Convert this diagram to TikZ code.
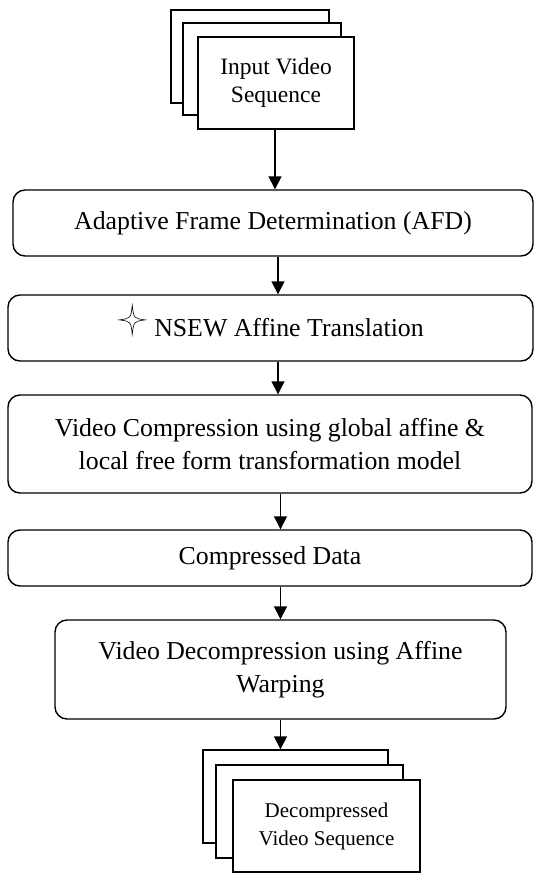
\documentclass[tikz,border=0pt]{standalone}
\usepackage{fontspec}
\setmainfont{Liberation Serif}
\usetikzlibrary{arrows.meta,positioning}

\tikzset{
  stepbox/.style={draw, rounded corners=12pt, line width=1.4pt, align=center,
    inner sep=0pt, font=\fontsize{25.8}{33}\selectfont},
  framebox/.style={draw, fill=white, line width=1.4pt, inner sep=0pt, align=center,
    minimum width=#1},
  framebox/.default=158pt,
  flow/.style={-{Triangle[length=13pt,width=13pt]}, line width=1.4pt},
  starline/.style={line width=0.6pt},
}

\begin{document}
\begin{tikzpicture}[x=1pt,y=-1pt]
  \useasboundingbox (0,0) rectangle (536,873);
  % input frames
  \node[framebox, minimum height=93pt] (in3) at (250,56.5) {};
  \node[framebox, minimum height=92pt] (in2) at (262,69) {};
  \node[framebox=156pt, minimum height=92pt, font=\fontsize{23.5}{28}\selectfont] (in1) at (276,83)
    {Input Video\\Sequence};
  % processing steps
  \node[stepbox, minimum width=520pt, minimum height=66pt] (afd) at (273,223)
    {Adaptive Frame Determination (AFD)};
  \node[stepbox, minimum width=525pt, minimum height=66pt] (nsew) at (270.5,328)
    {\hspace{37pt}NSEW Affine Translation};
  \node[stepbox, minimum width=524pt, minimum height=98pt] (comp) at (270,444)
    {Video Compression using global affine \&\\local free form transformation model};
  \node[stepbox, minimum width=524pt, minimum height=56pt] (data) at (270,558)
    {Compressed Data};
  \node[stepbox, minimum width=451pt, minimum height=99pt] (decomp) at (280.5,669.5)
    {Video Decompression using Affine\\Warping};
  % output frames
  \node[framebox=185pt, minimum height=93pt] (out3) at (295.5,796.5) {};
  \node[framebox=187pt, minimum height=93pt] (out2) at (309.5,811.5) {};
  \node[framebox=187pt, minimum height=92pt, font=\fontsize{21}{28}\selectfont] (out1) at (326.5,826)
    {Decompressed\\Video Sequence};
  % four-pointed star in front of NSEW
  \coordinate (star) at ([shift={(15,-17)}]nsew.text);
  \draw[starline, shift={(star)}] (0,-14.5) .. controls (1.5,-1.5) .. (13,0)
    .. controls (1.5,1.5) .. (0,14.5) .. controls (-1.5,1.5) .. (-13,0)
    .. controls (-1.5,-1.5) .. (0,-14.5) -- cycle;
  % arrows
  \coordinate (a1) at (275,0);
  \coordinate (a2) at (278,0);
  \coordinate (a3) at (280.5,0);
  \draw[flow] (in1.south -| a1) -- (afd.north -| a1);
  \draw[flow] (afd.south -| a2) -- (nsew.north -| a2);
  \draw[flow] (nsew.south -| a2) -- (comp.north -| a2);
  \draw[flow] (comp.south -| a3) -- (data.north -| a3);
  \draw[flow] (data.south -| a3) -- (decomp.north -| a3);
  \draw[flow] (decomp.south -| a3) -- (out3.north -| a3);
\end{tikzpicture}
\end{document}
